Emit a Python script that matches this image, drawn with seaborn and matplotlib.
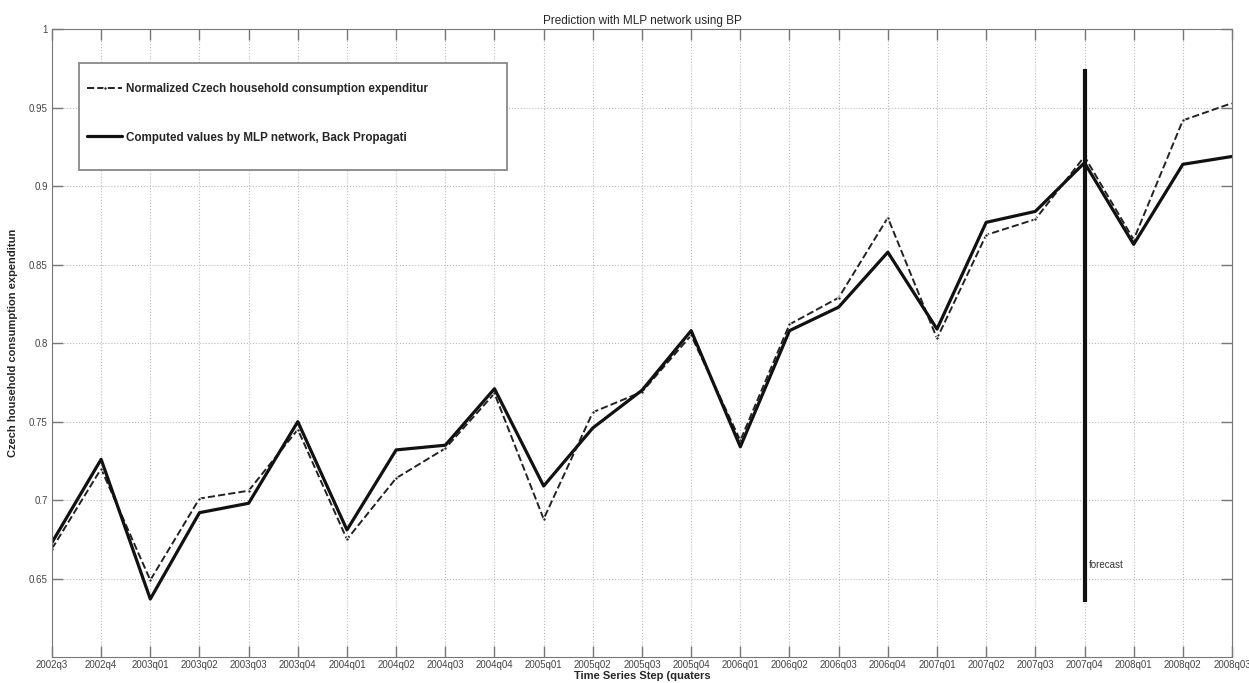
import pandas as pd
import matplotlib.pyplot as plt
import seaborn as sns
from matplotlib.patches import Rectangle

# quarter labels on the x axis
quarters = ["2002q3", "2002q4", "2003q01", "2003q02", "2003q03", "2003q04",
            "2004q01", "2004q02", "2004q03", "2004q04", "2005q01", "2005q02",
            "2005q03", "2005q04", "2006q01", "2006q02", "2006q03", "2006q04",
            "2007q01", "2007q02", "2007q03", "2007q04", "2008q01", "2008q02",
            "2008q03"]

# normalized actual expenditure (dashed)
actual = [0.669, 0.720, 0.649, 0.701, 0.706, 0.745, 0.675, 0.714, 0.733,
          0.768, 0.688, 0.756, 0.769, 0.805, 0.738, 0.812, 0.829, 0.880,
          0.803, 0.869, 0.879, 0.919, 0.866, 0.942, 0.953]

# values computed by the MLP network (solid)
computed = [0.673, 0.726, 0.637, 0.692, 0.698, 0.750, 0.681, 0.732, 0.735,
            0.771, 0.709, 0.746, 0.770, 0.808, 0.734, 0.808, 0.823, 0.858,
            0.809, 0.877, 0.884, 0.915, 0.863, 0.914, 0.919]

forecast_at = 21
forecast_span = [0.635, 0.975]

df = pd.DataFrame({"step": range(len(quarters)),
                   "actual": actual,
                   "computed": computed})

sns.set_style("whitegrid", {"grid.linestyle": ":", "grid.color": "#bbbbbb",
                            "axes.edgecolor": "#777777"})
plt.rcParams['font.family'] = ['Liberation Sans', 'DejaVu Sans']

fig, ax = plt.subplots(figsize=(12.49, 6.83), dpi=100)
fig.subplots_adjust(left=0.0416, right=0.9864, top=0.957, bottom=0.038)

sns.lineplot(data=df, x="step", y="actual", ax=ax, color="#222222",
             linestyle="--", linewidth=1.4, marker=".", markersize=5,
             label="Normalized Czech household consumption expenditur")
sns.lineplot(data=df, x="step", y="computed", ax=ax, color="#111111",
             linewidth=2.3,
             label="Computed values by MLP network, Back Propagati")

# forecast marker
ax.vlines(forecast_at, forecast_span[0], forecast_span[1], color="#111111",
          linewidth=3)
ax.text(forecast_at + 0.08, 0.657, "forecast", fontsize=7, color="#333333")

ax.set_xlim(0, len(quarters) - 1)
ax.set_ylim(0.6, 1.0)
ax.set_xticks(range(len(quarters)))
ax.set_xticklabels(quarters)
ax.set_yticks([0.65, 0.7, 0.75, 0.8, 0.85, 0.9, 0.95, 1.0])
ax.set_yticklabels(["0.65", "0.7", "0.75", "0.8", "0.85", "0.9", "0.95", "1"])
ax.tick_params(labelsize=7, labelcolor="#444444", color="#777777",
               direction="in", length=8, width=1, pad=3,
               top=True, right=True, bottom=True, left=True)
ax.tick_params(axis="x", pad=2)

ax.set_title("Prediction with MLP network using BP", fontsize=8.5, pad=4)
ax.set_xlabel("Time Series Step (quaters", fontsize=8, fontweight="bold",
              labelpad=1)
ax.set_ylabel("Czech household consumption expenditun", fontsize=8,
              fontweight="bold", labelpad=8)

# legend frame, wider than its text like the original
ax.add_patch(Rectangle((0.0229, 0.776), 0.3627, 0.171,
                       transform=ax.transAxes, facecolor="white",
                       edgecolor="#888888", linewidth=1.3, zorder=4))
leg = ax.legend(loc="upper left", bbox_to_anchor=(0.0297, 0.914),
                fontsize=8.4, frameon=False, labelspacing=3.1,
                borderpad=0, handlelength=3.0, handletextpad=0.35,
                borderaxespad=0)
leg.set_zorder(5)
for t in leg.get_texts():
    t.set_fontweight("bold")

plt.savefig("out.png", dpi=100)
